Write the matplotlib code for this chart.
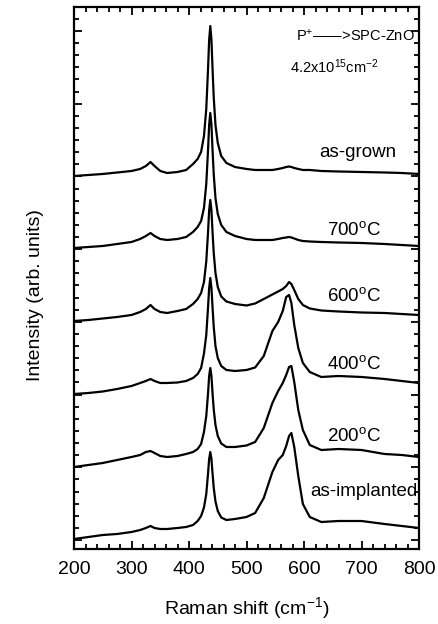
import matplotlib
matplotlib.use('Agg')
import matplotlib.pyplot as plt
from matplotlib.ticker import MultipleLocator

plt.rcParams['font.family'] = ['Liberation Sans', 'DejaVu Sans']
plt.rcParams['mathtext.fontset'] = 'custom'
plt.rcParams['mathtext.rm'] = 'Liberation Sans'
plt.rcParams['mathtext.it'] = 'Liberation Sans:italic'
plt.rcParams['mathtext.bf'] = 'Liberation Sans:bold'

# Raman shift (cm-1), shared by all spectra
shift = [200, 225, 250, 275, 300, 315, 325, 333, 340, 350, 362, 380, 395, 407, 415, 421,
         426, 430, 433, 435, 437, 439, 441, 443, 446, 450, 456, 465, 480, 500, 515, 530,
         545, 555, 563, 569, 574, 578, 583, 590, 598, 610, 630, 660, 700, 740, 770, 800]

# intensities (arb. units), already stacked as in the figure
as_grown = [373, 374, 375, 376.5, 378, 380, 383, 387, 383, 378, 376, 377, 379, 385, 390, 397,
            413, 440, 479, 509, 523, 509, 479, 451.5, 424, 406, 393, 386, 382, 380, 379, 379,
            379, 380, 381, 382, 382.5, 382, 381, 380, 379, 379, 378, 377.5, 377, 376.5, 376, 375]
t700 = [301, 302, 303, 305, 307, 310, 313, 316, 313, 310, 309, 310, 312, 317, 322, 328,
        341, 365, 398, 424, 436, 424, 398, 374.5, 351, 335, 324, 317, 313, 310, 309, 309,
        309, 310, 311, 311.5, 312, 311.5, 310.5, 309, 308, 307.5, 307, 306.5, 306, 305, 304, 303]
t600 = [228, 229, 230.5, 232, 234, 237, 240, 244, 240, 237, 236, 238, 240, 245, 250, 256,
        267, 287.5, 316, 338.5, 349, 338.5, 316, 296, 276, 262, 252.5, 247.5, 245, 243.5, 245.5, 250,
        254.5, 257.5, 260, 263, 267, 265, 259, 250, 244, 240.5, 238.5, 237.5, 236.5, 236, 235, 234]
t400 = [155, 156, 157.5, 160, 163, 166, 168, 170, 168, 166, 166, 166.5, 168, 171, 175, 181,
        195.5, 214, 241, 261, 271, 261, 241, 222, 203, 191, 183, 179, 178, 179, 181.5, 193,
        218, 227, 238, 252, 254, 246, 224, 201, 186, 177, 172, 173, 172, 170, 168, 166]
t200 = [82, 84, 86, 89, 92, 94, 97, 98, 96, 93, 92, 93, 95, 97, 100, 105,
        117, 133, 155, 173, 181, 173, 155, 139.5, 124, 113, 105.5, 102, 102, 103.5, 107, 121,
        146, 158, 166, 174, 182, 183, 167, 139, 119, 104, 99, 100, 99, 95, 94, 92]
as_implanted = [10, 12, 14, 15, 17, 19, 21, 23, 21, 20, 20, 21, 22, 24, 28, 33,
                41.5, 55, 75, 90, 97, 90, 75, 61, 47.5, 38, 31.5, 29, 30, 32, 36, 51,
                77, 89, 94, 103, 113, 116, 102, 73, 45, 32, 27, 28, 28, 25, 23, 21]

spectra = [as_grown, t700, t600, t400, t200, as_implanted]
labels = ['as-grown', '700$^{\\rm o}$C', '600$^{\\rm o}$C', '400$^{\\rm o}$C',
          '200$^{\\rm o}$C', 'as-implanted']
label_x = [760, 734, 734, 734, 734, 797]
label_y = [396, 319, 253, 185, 113, 57]

fig = plt.figure(figsize=(4.39, 6.24), dpi=100)
ax = fig.add_axes([0.1686, 0.1202, 0.7859, 0.8686])

for s in spectra:
    ax.plot(shift, s, color='black', lw=1.6)

for lab, lx, ly in zip(labels, label_x, label_y):
    ax.text(lx, ly, lab, ha='right', va='center', fontsize=13.5)

narrow = ['Liberation Sans Narrow', 'Liberation Sans', 'DejaVu Sans']
ax.text(793, 513, 'P$^{+}$——>SPC-ZnO', ha='right', va='center', fontsize=10.5, family=narrow)
ax.text(576, 482, '4.2x10$^{15}$cm$^{-2}$', ha='left', va='center', fontsize=10.5, family=narrow)

ax.set_xlim(200, 800)
ax.set_ylim(0, 542)
ax.xaxis.set_major_locator(MultipleLocator(100))
ax.xaxis.set_minor_locator(MultipleLocator(20))
ax.yaxis.set_major_locator(MultipleLocator(72.72, offset=9))
ax.yaxis.set_minor_locator(MultipleLocator(12.12, offset=9))
ax.set_yticklabels([])
ax.tick_params(which='both', direction='in', top=True, right=True, width=1.3)
ax.tick_params(which='major', length=6, labelsize=14, pad=9)
ax.tick_params(which='minor', length=3.5)
for sp in ax.spines.values():
    sp.set_linewidth(1.6)

ax.set_xlabel('Raman shift (cm$^{-1}$)', fontsize=14, labelpad=12)
fig.text(0.08, 1 - 295 / 624, 'Intensity (arb. units)', rotation=90,
         ha='center', va='center', fontsize=14)

fig.savefig('out.png', dpi=100)
